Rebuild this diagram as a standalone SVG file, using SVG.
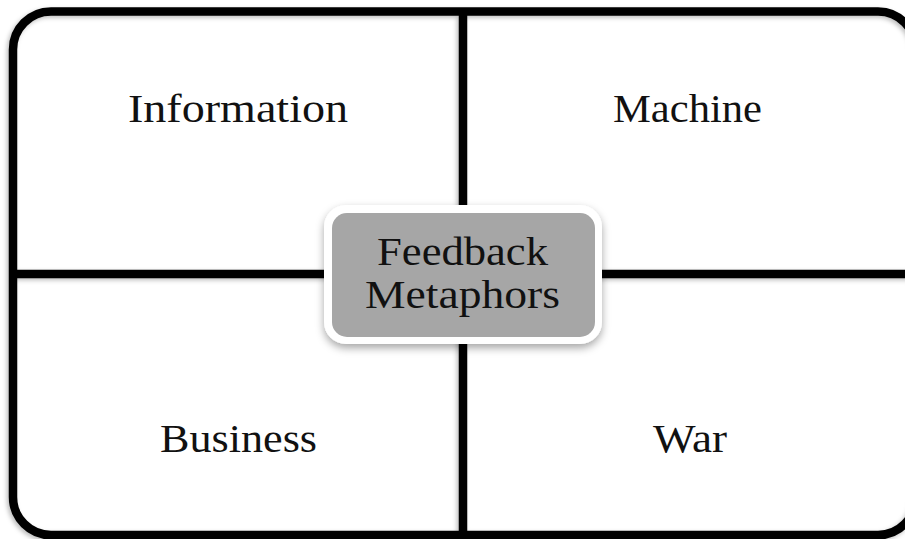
<svg xmlns="http://www.w3.org/2000/svg" width="905" height="539" viewBox="0 0 905 539">
<style>
.line{stroke:#000;stroke-width:8.5;fill:none}
.lbl{font-family:"Liberation Serif","DejaVu Serif",serif;font-size:40px;fill:#111;text-anchor:middle}
</style>
<defs>
<filter id="sh" x="-10%" y="-10%" width="120%" height="130%">
<feDropShadow dx="-2" dy="2" stdDeviation="2" flood-color="#000" flood-opacity="0.25"/>
</filter>
<filter id="sh2" x="-10%" y="-10%" width="120%" height="140%">
<feDropShadow dx="0" dy="4" stdDeviation="4" flood-color="#000" flood-opacity="0.35"/>
</filter>
</defs>
<rect width="905" height="539" fill="#fff"/>
<g id="connectors" filter="url(#sh)">
<rect class="line" x="13" y="11.5" width="903" height="523.5" rx="38"/>
<line class="line" x1="463" y1="11.5" x2="463" y2="535"/>
<line class="line" x1="13" y1="274" x2="916" y2="274"/>
</g>
<g id="information"><text class="lbl" x="238" y="122" textLength="220" lengthAdjust="spacingAndGlyphs">Information</text></g>
<g id="machine"><text class="lbl" x="687.5" y="122" textLength="149" lengthAdjust="spacingAndGlyphs">Machine</text></g>
<g id="business"><text class="lbl" x="238.5" y="452" textLength="157" lengthAdjust="spacingAndGlyphs">Business</text></g>
<g id="war"><text class="lbl" x="690" y="452" textLength="74" lengthAdjust="spacingAndGlyphs">War</text></g>
<g id="feedback-metaphors">
<rect x="324" y="205" width="278" height="139" rx="22" fill="#fff" filter="url(#sh2)"/>
<rect x="332" y="213" width="263" height="124" rx="15" fill="#a6a6a6"/>
<text class="lbl" x="462.5" y="265" textLength="171" lengthAdjust="spacingAndGlyphs">Feedback</text>
<text class="lbl" x="462.5" y="308" textLength="195" lengthAdjust="spacingAndGlyphs">Metaphors</text>
</g>
</svg>
